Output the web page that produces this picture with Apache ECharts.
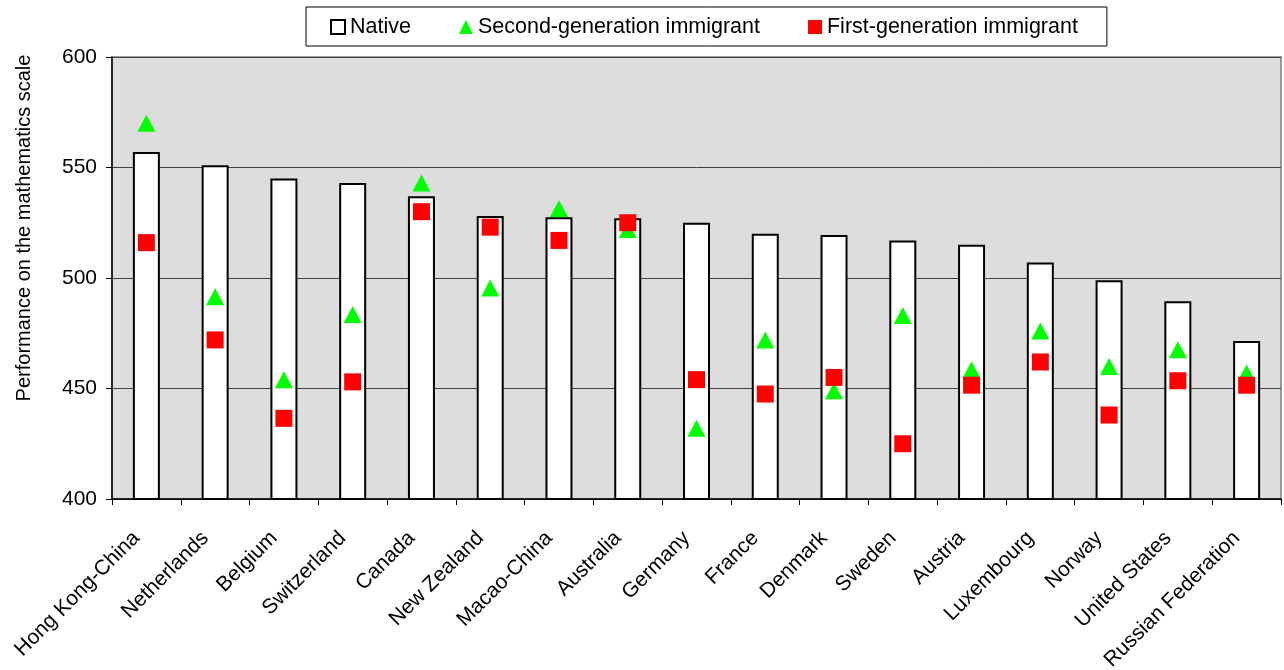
<!DOCTYPE html>
<html>
<head>
<meta charset="utf-8">
<script src="https://cdn.jsdelivr.net/npm/echarts@6/dist/echarts.min.js"></script>
<style>
  html, body { margin: 0; padding: 0; background: #ffffff; }
  #chart { width: 1284px; height: 670px; }
</style>
</head>
<body>
<div id="chart"></div>
<script>
// Mean mathematics performance by immigrant status
const countries = [
  'Hong Kong-China', 'Netherlands', 'Belgium', 'Switzerland', 'Canada',
  'New Zealand', 'Macao-China', 'Australia', 'Germany', 'France',
  'Denmark', 'Sweden', 'Austria', 'Luxembourg', 'Norway',
  'United States', 'Russian Federation'
];
const nativeScores = [557, 551, 545, 543, 537, 528, 527.5, 527, 525, 520, 519.5, 517, 515, 507, 499, 489.5, 471.5];
const secondGenScores = [570, 491.5, 454, 483.5, 543, 495.5, 531.5, 522, 432, 472, 449, 483, 458.5, 476, 460, 467.5, 457];
const firstGenScores = [516, 472, 436.5, 453, 530, 523, 517, 525, 454, 447.5, 455, 425, 451.5, 462, 438, 453.5, 451.5];
const yTicks = [400, 450, 500, 550, 600];

const FONT = '"Liberation Sans", Arial, sans-serif';

const chart = echarts.init(document.getElementById('chart'), null, { renderer: 'canvas' });

chart.setOption({
  animation: false,
  backgroundColor: '#ffffff',
  textStyle: { fontFamily: FONT, color: '#000000' },
  legend: {
    left: 306,
    top: 7,
    padding: [9, 29, 8, 24],
    itemGap: 48,
    itemWidth: 14,
    itemHeight: 14,
    backgroundColor: '#ffffff',
    borderColor: '#000000',
    borderWidth: 1,
    borderRadius: 0,
    textStyle: { fontFamily: FONT, fontSize: 21.5, color: '#000000' },
    data: [
      { name: 'Native', icon: 'rect', itemStyle: { color: '#ffffff', borderColor: '#000000', borderWidth: 2 } },
      { name: 'Second-generation immigrant', icon: 'triangle', itemStyle: { color: '#00ff00', borderWidth: 0 } },
      { name: 'First-generation immigrant', icon: 'rect', itemStyle: { color: '#ff0000', borderWidth: 0 } }
    ]
  },
  grid: {
    left: 112,
    right: 3,
    top: 57,
    bottom: 171,
    outerBoundsMode: 'none',
    containLabel: false,
    show: true,
    backgroundColor: '#dddddd',
    borderColor: '#808080',
    borderWidth: 1.5
  },
  xAxis: {
    type: 'category',
    data: countries,
    boundaryGap: true,
    axisLine: { show: true, lineStyle: { color: '#000000', width: 1.5 } },
    axisTick: { show: true, length: 6, inside: false, lineStyle: { color: '#000000', width: 1 } },
    axisLabel: {
      interval: 0,
      rotate: 45,
      margin: 26,
      padding: [0, 14, 0, 0],
      fontFamily: FONT,
      fontSize: 21,
      color: '#000000'
    },
    splitLine: { show: false }
  },
  yAxis: {
    type: 'value',
    min: yTicks[0],
    max: yTicks[yTicks.length - 1],
    interval: yTicks[1] - yTicks[0],
    name: 'Performance on the mathematics scale',
    nameLocation: 'middle',
    nameGap: 78,
    nameTextStyle: { fontFamily: FONT, fontSize: 20, color: '#000000', padding: [0, 0, 0, 100] },
    axisLine: { show: true, lineStyle: { color: '#000000', width: 1.5 } },
    axisTick: { show: true, length: 6, inside: false, lineStyle: { color: '#000000', width: 1 } },
    axisLabel: {
      margin: 15,
      fontFamily: FONT,
      fontSize: 21,
      color: '#000000'
    },
    splitLine: { show: true, lineStyle: { color: '#404040', width: 1 } }
  },
  series: [
    {
      name: 'Native',
      type: 'bar',
      data: nativeScores,
      barWidth: 27,
      itemStyle: { color: '#ffffff', borderColor: '#000000', borderWidth: 2 },
      z: 2
    },
    {
      name: 'Second-generation immigrant',
      type: 'scatter',
      data: secondGenScores,
      symbol: 'triangle',
      symbolSize: [18, 17],
      itemStyle: { color: '#00ff00', opacity: 1 },
      z: 3
    },
    {
      name: 'First-generation immigrant',
      type: 'scatter',
      data: firstGenScores,
      symbol: 'rect',
      symbolSize: [17, 17],
      itemStyle: { color: '#ff0000', opacity: 1 },
      z: 4
    }
  ]
});
</script>
</body>
</html>
